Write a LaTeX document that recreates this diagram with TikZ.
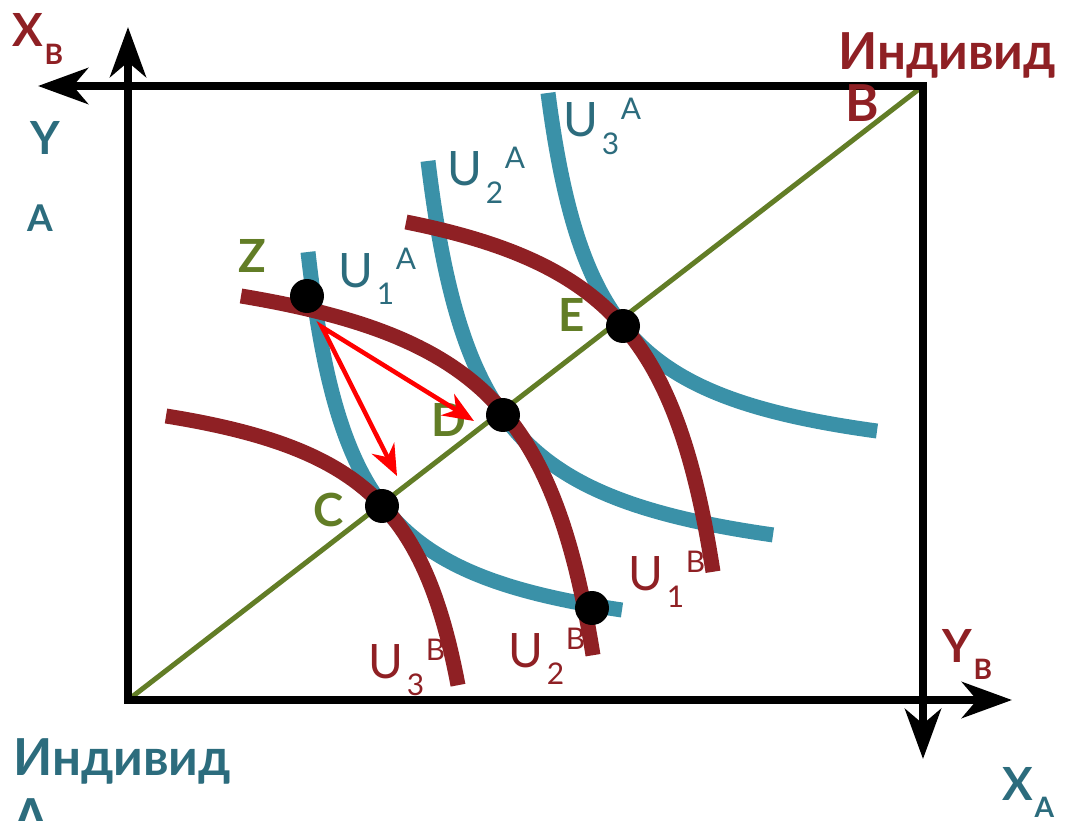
\documentclass[tikz,border=0pt]{standalone}
\usepackage{fontspec}
\setmainfont{Lato}
\usetikzlibrary{arrows.meta}
\definecolor{ured}{RGB}{143,32,36}
\definecolor{uteal}{RGB}{58,145,168}
\definecolor{tteal}{RGB}{44,108,125}
\definecolor{ugreen}{RGB}{98,125,38}
\newcommand{\sublow}[1]{\raisebox{-10pt}{\fontsize{16}{16}\selectfont #1}}
\newcommand{\ulab}[2]{U\hspace{2pt}\raisebox{-10pt}{\fontsize{17}{17}\selectfont #1}\hspace{1pt}\raisebox{10pt}{\fontsize{17}{17}\selectfont #2}}

\begin{document}
\begin{tikzpicture}[x=0.02cm, y=-0.02cm,
	axisline/.style={line width=0.16cm, line cap=rect, -{Stealth[length=1cm,width=0.72cm,inset=0.3cm]}},
	ucurve/.style={line width=0.3cm},
	dot/.style={circle, fill=black, minimum size=0.68cm, inner sep=0pt},
	big/.style={font=\fontsize{26}{26}\selectfont\bfseries, inner sep=0pt},
	who/.style={font=\fontsize{29}{29}\selectfont\bfseries, inner sep=0pt, anchor=base west},
	ulabel/.style={font=\fontsize{27}{27}\selectfont, inner sep=0pt, anchor=base west},
	tradearrow/.style={draw=red, line width=0.09cm, line join=miter,
		{Stealth[length=0.62cm,width=0.5cm,inset=0.2cm]}-{Stealth[length=0.62cm,width=0.5cm,inset=0.2cm]}}]
		\useasboundingbox (0,0) rectangle (1066,821);
		% origins of A (bottom left) and B (top right)
		\coordinate (OA) at (128,700);
		\coordinate (OB) at (923,86);
		\coordinate (xbtip) at (38,86);
		\coordinate (yatip) at (128,27);
		\coordinate (ybtip) at (1012,700);
		\coordinate (xatip) at (923,759);
		% contract curve
		\draw[ugreen, line width=0.1cm] (OA) -- (OB);
		% box and axes
		\draw[axisline] (OA) -- (yatip);
		\draw[axisline] (OB) -- (xbtip);
		\draw[axisline] (OA) -- (ybtip);
		\draw[axisline] (OB) -- (xatip);
		% indifference curves of A
		\draw[ucurve, uteal] plot[domain=308:622, samples=300, smooth] (\x,{662.8-190.20/((\x-261.7)/100)});
		\draw[ucurve, uteal] plot[domain=428:773, samples=300, smooth] (\x,{591.4-224.24/((\x-375.9)/100)});
		\draw[ucurve, uteal] plot[domain=548:877, samples=300, smooth] (\x,{482.9-196.90/((\x-497.5)/100)});
		% indifference curves of B
		\draw[ucurve, ured] plot[domain=166:458, samples=300, smooth] (\x,{359.3+200.43/((519.5-\x)/100)});
		\draw[ucurve, ured] plot[domain=241:593, samples=300, smooth] (\x,{226.2+293.44/((661.4-\x)/100)});
		\draw[ucurve, ured] plot[domain=406:713, samples=300, smooth] (\x,{147.6+276.99/((778.3-\x)/100)});
		% axis labels
		\node[big, ured, anchor=base west] (xb) at (12,47) {X\hspace{1pt}\sublow{B}};
		\node[big, tteal] (ya) at (45,138) {Y};
		\node[tteal, inner sep=0pt, font=\fontsize{21}{21}\selectfont\bfseries] (yasub) at (40,218) {A};
		\node[big, ured, anchor=base west] (yb) at (942,662) {Y\hspace{1pt}\sublow{B}};
		\node[big, tteal, anchor=base west] (xa) at (1002,800) {X\hspace{1pt}\sublow{A}};
		\node[who, ured] (indB) at (838,70) {Индивид};
		\node[who, ured] (indBl) at (845,122) {В};
		\node[who, tteal] (indA) at (13,775) {Индивид};
		\node[who, tteal] (indAl) at (13,835) {А};
		% curve labels
		\node[ulabel, tteal] (u1a) at (338,287) {\ulab{1}{A}};
		\node[ulabel, tteal] (u2a) at (447,186) {\ulab{2}{A}};
		\node[ulabel, tteal] (u3a) at (563,137) {\ulab{3}{A}};
		\node[ulabel, ured] (u1b) at (628,590) {\ulab{1}{B}};
		\node[ulabel, ured] (u2b) at (508,667) {\ulab{2}{B}};
		\node[ulabel, ured] (u3b) at (368,678) {\ulab{3}{B}};
		% point letters
		\node[big, ugreen] (lZ) at (252,256) {Z};
		\node[big, ugreen] (lE) at (572,315) {E};
		\node[big, ugreen] (lD) at (449,420) {D};
		\node[big, ugreen] (lC) at (329,510) {C};
		% moves away from Z
		\coordinate (zs) at (322,327);
		\coordinate (dt) at (474,421);
		\coordinate (ct) at (397,476);
		\draw[tradearrow] (dt) -- (zs) -- (ct);
		% allocations
		\node[dot] (Z) at (307,296) {};
		\node[dot] (E) at (623,326) {};
		\node[dot] (D) at (503,415) {};
		\node[dot] (C) at (382,506) {};
		\node[dot] (F) at (592,608) {};
	\end{tikzpicture}
\end{document}
